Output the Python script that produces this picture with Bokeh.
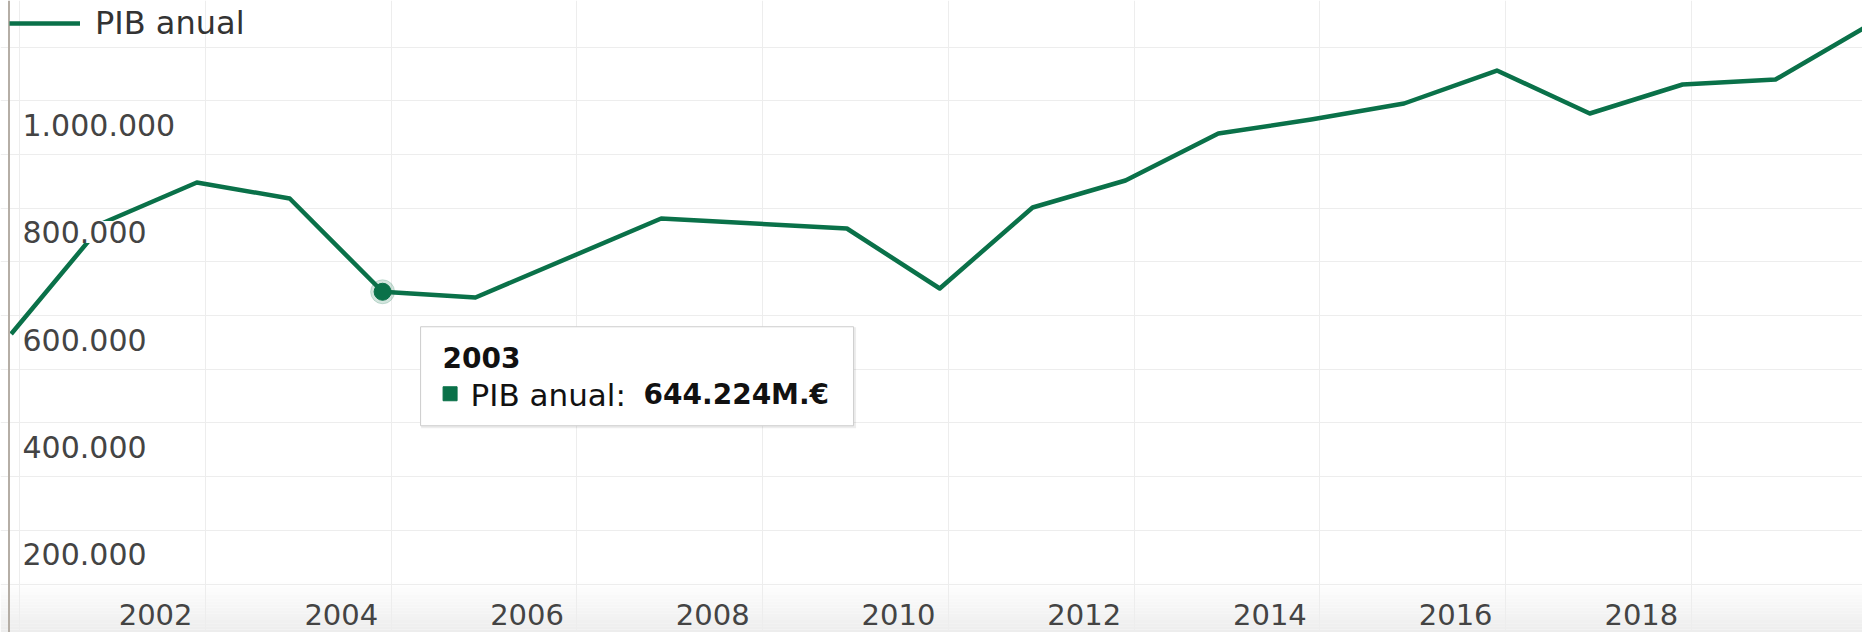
from bokeh.plotting import figure
from bokeh.models import (Range1d, FixedTicker, Grid, Legend, LegendItem,
                          ColumnDataSource, BoxAnnotation, Span)
from bokeh.core.properties import value
from bokeh.embed import file_html
from bokeh.resources import INLINE

# ---------------- data ----------------
years = [1999, 2000, 2001, 2002, 2003, 2004, 2006, 2008, 2009, 2010,
         2011, 2012, 2013, 2014, 2015, 2016, 2017, 2018, 2019]
pib = [565500, 773200, 847700, 817900, 644224, 633500, 780600, 762000, 650300, 801100,
       851400, 938900, 965000, 994800, 1056200, 976200, 1030200, 1039500, 1140000]
series_name = "PIB anual"

y_ticks = [200000, 400000, 600000, 800000, 1000000]
y_tick_labels = ["200.000", "400.000", "600.000", "800.000", "1.000.000"]
x_ticks = [2002, 2004, 2006, 2008, 2010, 2012, 2014, 2016, 2018]
x_tick_labels = ["2002", "2004", "2006", "2008", "2010", "2012", "2014", "2016", "2018"]

hover_year = 2003
hover_value = 644224
hover_title = "2003"
hover_value_label = "644.224M.€"

# ---------------- layout / style ----------------
W, H = 1862, 632
SHIFT = 0.907                 # points sit near the end of their year
x0, x1 = 1999.7924, 2019.844
y0, y1 = 9700, 1186600
sx = W / (x1 - x0)
sy = H / (y1 - y0)
def dx(px): return px / sx
def dy(px): return px / sy

GREEN = "#0a7149"
FONT_NAME = "DejaVu Sans"
FONT = value(FONT_NAME)
LABEL_COLOR = "#444444"

p = figure(width=W, height=H, x_range=Range1d(x0, x1), y_range=Range1d(y0, y1),
           x_axis_location=None, y_axis_location=None,
           toolbar_location=None, output_backend="svg", min_border=0,
           outline_line_color=None, background_fill_color="white",
           border_fill_color="white")
p.center = [r for r in p.center if not isinstance(r, Grid)]

# bottom gradient panel
nb = 16
top_px = 582
for i in range(nb):
    a = H - top_px
    t = top_px + a * i / nb
    b = top_px + a * (i + 1) / nb
    g = int(255 - 18 * (i + 0.5) / nb)
    p.add_layout(BoxAnnotation(left=x0, right=x1,
                               top=y0 + dy(H - t), bottom=y0 + dy(H - b),
                               fill_color=(g, g, g), fill_alpha=1, line_color=None,
                               level="underlay"))

grid_x = list(range(2000, 2022, 2))
grid_y = list(range(0, 1300001, 100000))
p.add_layout(Grid(dimension=0, ticker=FixedTicker(ticks=grid_x),
                  grid_line_color="#ededed", grid_line_width=1))
p.add_layout(Grid(dimension=1, ticker=FixedTicker(ticks=grid_y),
                  grid_line_color="#ededed", grid_line_width=1))

src = ColumnDataSource(dict(x=[y + SHIFT for y in years], y=pib))
line = p.line("x", "y", source=src, line_color=GREEN, line_width=4.5,
              line_join="round")

# hovered point
xp = hover_year + SHIFT
yp = hover_value
p.scatter([xp], [yp], size=24, color=GREEN, alpha=0.18)
p.scatter([xp], [yp], size=17, color=GREEN)

# y labels inside plot
p.text(x=[x0 + dx(22)] * len(y_ticks), y=[v - dy(24) for v in y_ticks],
       text=y_tick_labels, text_font=FONT, text_font_size=value("30px"),
       text_color=LABEL_COLOR, text_align="left", text_baseline="middle",
       background_fill_color="white")

# x labels
p.text(x=[t - dx(13) for t in x_ticks], y=[y0 + dy(H - 614)] * len(x_ticks),
       text=x_tick_labels, text_font=FONT, text_font_size=value("29px"),
       text_color=LABEL_COLOR, text_align="right", text_baseline="middle")

# tooltip
p.rect(x=[xp + dx(256)], y=[yp - dy(86)], width=[435], height=[101],
       width_units="screen", height_units="screen",
       fill_color="black", fill_alpha=0.07, line_color=None)
p.rect(x=[xp + dx(254.5)], y=[yp - dy(84.5)], width=[433], height=[99],
       width_units="screen", height_units="screen",
       fill_color="white", line_color="#cccccc", line_width=1)
p.text(x=[xp + dx(60)], y=[yp - dy(66)], text=[hover_title], text_font=FONT,
       text_font_size=value("28px"), text_font_style="bold", text_color="#111111",
       text_align="left", text_baseline="middle")
p.scatter([xp + dx(67.5)], [yp - dy(102)], marker="square", size=14, color=GREEN)
p.text(x=[xp + dx(88)], y=[yp - dy(103)], text=[series_name + ":"], text_font=FONT,
       text_font_size=value("31px"), text_color="#111111",
       text_align="left", text_baseline="middle")
p.text(x=[xp + dx(261)], y=[yp - dy(103)], text=[hover_value_label], text_font=FONT,
       text_font_size=value("28px"), text_font_style="bold", text_color="#111111",
       text_align="left", text_baseline="middle")

# left border
p.add_layout(Span(location=x0 + dx(8.5), dimension="height",
                  line_color="#b5aea6", line_width=2))

legend = Legend(items=[LegendItem(label=series_name, renderers=[line])],
                location=(9, H - 42), margin=0, padding=0,
                border_line_color=None, background_fill_alpha=0,
                glyph_width=71, glyph_height=28, label_standoff=15,
                label_text_font=FONT_NAME, label_text_font_size="32px",
                label_text_color="#333333")
p.add_layout(legend)

open("out.html", "w").write(file_html(p, INLINE))
